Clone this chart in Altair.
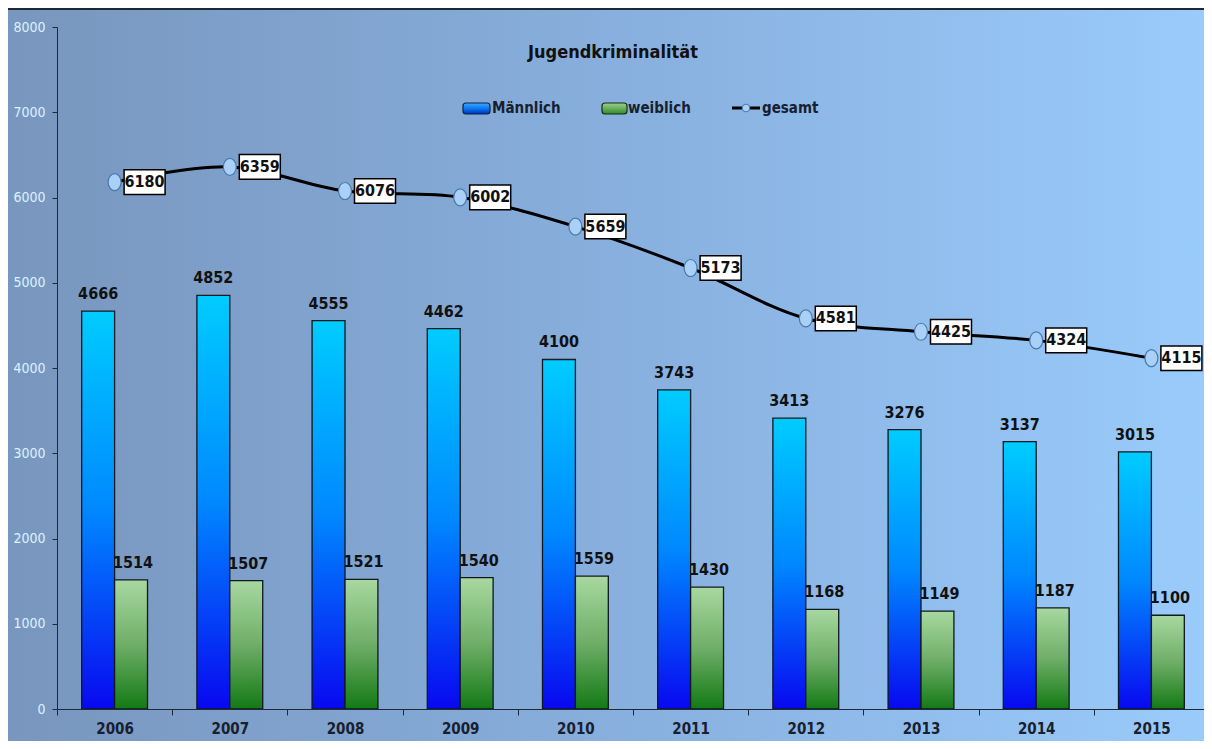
import altair as alt
import pandas as pd

years = ["2006", "2007", "2008", "2009", "2010", "2011", "2012", "2013", "2014", "2015"]
maennlich = [4666, 4852, 4555, 4462, 4100, 3743, 3413, 3276, 3137, 3015]
weiblich = [1514, 1507, 1521, 1540, 1559, 1430, 1168, 1149, 1187, 1100]
gesamt = [6180, 6359, 6076, 6002, 5659, 5173, 4581, 4425, 4324, 4115]
y_ticks = [0, 1000, 2000, 3000, 4000, 5000, 6000, 7000, 8000]
series_names = ["Männlich", "weiblich"]

W, H = 1147, 682
FONT = "DejaVu Sans Condensed, Liberation Sans Narrow, Arial Narrow, sans-serif"

df_m = pd.DataFrame({"year": years, "series": "Männlich", "value": maennlich})
df_w = pd.DataFrame({"year": years, "series": "weiblich", "value": weiblich})
df_g = pd.DataFrame({"year": years, "value": gesamt})


def vgrad(stops):
    return alt.LinearGradient(
        gradient="linear",
        stops=[alt.GradientStop(offset=o, color=c) for o, c in stops],
        x1=0, x2=0, y1=0, y2=1,
    )


bg_grad = alt.LinearGradient(
    gradient="linear",
    stops=[
        alt.GradientStop(offset=0, color="#7896BE"),
        alt.GradientStop(offset=0.5, color="#88AFDD"),
        alt.GradientStop(offset=1, color="#9ACCFC"),
    ],
    x1=0, x2=1, y1=0, y2=0,
)
blue_grad = vgrad([(0, "#00CCFF"), (0.5, "#0088FF"), (1, "#0808F0")])
green_grad = vgrad([(0, "#A8D8A0"), (0.5, "#6FAE68"), (1, "#137A14")])

x_enc = alt.X(
    "year:O",
    scale=alt.Scale(range=[0, 1152], paddingInner=0, paddingOuter=0),
    axis=alt.Axis(
        title=None, labelAngle=0, tickBand="extent", tickSize=6, zindex=1,
        labelFont=FONT, labelFontSize=15, labelFontWeight="bold", labelColor="#18202E",
        labelPadding=6, domainColor="#1E2A38", tickColor="#1E2A38",
    ),
)
y_enc = alt.Y(
    "value:Q",
    scale=alt.Scale(domain=[0, 8000], nice=False),
    axis=alt.Axis(
        title=None, values=y_ticks, format="d", grid=False, tickSize=5, zindex=1,
        labelFont=FONT, labelFontSize=14, labelColor="#DDF2FF", labelPadding=7,
        domainColor="#1E2A38", tickColor="#1E2A38",
    ),
)
xo_enc = alt.XOffset(
    "series:N",
    scale=alt.Scale(domain=series_names, paddingInner=0, paddingOuter=0.75),
)

one = alt.Data(values=[{}])

background = alt.Chart(one).mark_rect(fill=bg_grad).encode(
    x=alt.value(-49), x2=alt.value(W + 20), y=alt.value(-19), y2=alt.value(H + 40)
)
top_line = alt.Chart(one).mark_rule(color="#1C2835", strokeWidth=2).encode(
    x=alt.value(-49), x2=alt.value(W + 20), y=alt.value(-18)
)

bars_m = alt.Chart(df_m).mark_bar(fill=blue_grad, stroke="#101820", strokeWidth=1.3).encode(
    x=x_enc, y=y_enc, xOffset=xo_enc
)
bars_w = alt.Chart(df_w).mark_bar(fill=green_grad, stroke="#101820", strokeWidth=1.3).encode(
    x=x_enc, y=y_enc, xOffset=xo_enc
)
lab_m = alt.Chart(df_m).mark_text(
    font=FONT, fontSize=16, fontWeight="bold", color="#111", baseline="bottom", dy=-9
).encode(x=x_enc, y=y_enc, xOffset=xo_enc, text="value:Q")
lab_w = alt.Chart(df_w).mark_text(
    font=FONT, fontSize=16, fontWeight="bold", color="#111", baseline="bottom",
    align="left", dy=-9, dx=-18,
).encode(x=x_enc, y=y_enc, xOffset=xo_enc, text="value:Q")

line = alt.Chart(df_g).mark_line(color="#000", strokeWidth=3, interpolate="catmull-rom").encode(
    x=x_enc, y=y_enc
)
ellipse = "M0,-1 A0.76,1 0 1,1 0,1 A0.76,1 0 1,1 0,-1 Z"
pts = alt.Chart(df_g).mark_point(
    shape=ellipse, size=289, filled=True, fill="#A9D1F7", stroke="#4A78A8", strokeWidth=1.2, opacity=1
).encode(x=x_enc, y=y_enc)
box = alt.Chart(df_g).mark_point(
    shape="M-1,-0.6 L1,-0.6 L1,0.6 L-1,0.6 Z", size=1681, filled=True, fill="#FFFFFF",
    stroke="#000", strokeWidth=1.5, opacity=1, xOffset=30,
).encode(x=x_enc, y=y_enc)
box_txt = alt.Chart(df_g).mark_text(
    font=FONT, fontSize=16, fontWeight="bold", color="#111", dx=30, baseline="middle"
).encode(x=x_enc, y=y_enc, text="value:Q")

title = alt.Chart(one).mark_text(
    text="Jugendkriminalität", font=FONT, fontSize=18, fontWeight="bold", color="#111"
).encode(x=alt.value(556), y=alt.value(26))

txt_kw = dict(font=FONT, fontSize=15, fontWeight="bold", color="#18202E", align="left", baseline="middle")
leg_m_sw = alt.Chart(one).mark_rect(
    fill=vgrad([(0, "#3FA8FF"), (0.5, "#0A78F0"), (1, "#0030C0")]), stroke="#102040",
    strokeWidth=1.2, cornerRadius=3,
).encode(x=alt.value(406), x2=alt.value(433), y=alt.value(76), y2=alt.value(87))
leg_m_tx = alt.Chart(one).mark_text(text="Männlich", **txt_kw).encode(x=alt.value(435), y=alt.value(81))
leg_w_sw = alt.Chart(one).mark_rect(
    fill=vgrad([(0, "#9CD08C"), (0.5, "#6AAE5C"), (1, "#2E8A2A")]), stroke="#103010",
    strokeWidth=1.2, cornerRadius=3,
).encode(x=alt.value(545), x2=alt.value(570), y=alt.value(76), y2=alt.value(87))
leg_w_tx = alt.Chart(one).mark_text(text="weiblich", **txt_kw).encode(x=alt.value(571), y=alt.value(81))
leg_g_ln = alt.Chart(one).mark_rule(color="#000", strokeWidth=3).encode(
    x=alt.value(675), x2=alt.value(703), y=alt.value(81)
)
leg_g_pt = alt.Chart(one).mark_point(
    shape="circle", size=60, filled=True, fill="#A9D1F7", stroke="#4A78A8", strokeWidth=1, opacity=1
).encode(x=alt.value(689), y=alt.value(81))
leg_g_tx = alt.Chart(one).mark_text(text="gesamt", **txt_kw).encode(x=alt.value(705), y=alt.value(81))

chart = alt.layer(
    background, top_line, bars_m, bars_w, lab_m, lab_w, line, pts, box, box_txt,
    title, leg_m_sw, leg_m_tx, leg_w_sw, leg_w_tx, leg_g_ln, leg_g_pt, leg_g_tx,
).properties(
    width=W, height=H,
    autosize=alt.AutoSizeParams(type="none"),
    padding={"left": 49, "top": 19, "right": 0, "bottom": 32},
    background="#8FB6E2",
).configure_view(stroke="transparent")

chart.save("out.html", embed_options={"renderer": "svg", "actions": False})
